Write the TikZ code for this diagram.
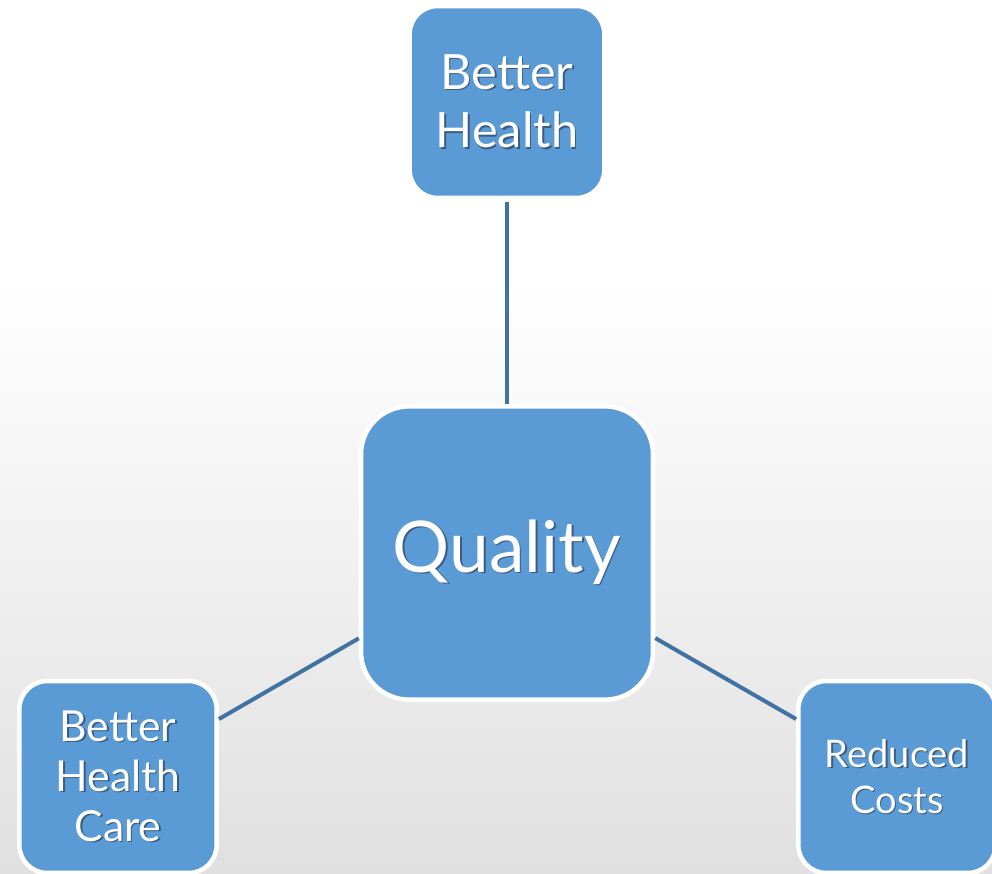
\documentclass[tikz,border=0pt]{standalone}
\usepackage{fontspec}
\setmainfont{Lato}
\definecolor{boxblue}{RGB}{91,155,213}
\definecolor{linkblue}{RGB}{66,114,162}
\definecolor{txtshade}{RGB}{58,92,130}
\definecolor{bgbottom}{RGB}{224,224,224}
\newcommand\shtxt[1]{\makebox[0pt][l]{\kern1.1pt\raisebox{-1.1pt}{\textcolor{txtshade}{#1}}}#1}
\tikzset{
  goal/.style={draw=white, line width=3.4pt, fill=boxblue, text=white,
    rounded corners=21pt, align=center, minimum width=146pt, minimum height=144pt},
  hub/.style={goal, rounded corners=36pt, minimum width=219pt, minimum height=220pt,
    font=\fontsize{53.5}{60}\selectfont},
  link/.style={draw=linkblue, line width=3pt},
}
\begin{document}
\begin{tikzpicture}[x=0.75pt,y=-0.75pt]
  \useasboundingbox (0,0) rectangle (992,874);
  \fill[white] (0,0) rectangle (992,280);
  \shade[top color=white, bottom color=bgbottom] (0,280) rectangle (992,874);

  \node[hub] (quality) at (507,553) {\shtxt{Quality}};
  \node[goal, font=\fontsize{36.5}{44}\selectfont] (health) at (507,102) {\shtxt{Better}\\\shtxt{Health}};
  \node[goal, minimum width=148pt, font=\fontsize{32}{37.5}\selectfont] (care) at (118,777) {\shtxt{Better}\\\shtxt{Health}\\\shtxt{Care}};
  \node[goal, minimum width=148pt, font=\fontsize{28.5}{34.5}\selectfont] (costs) at (897,777) {\shtxt{Reduced}\\\shtxt{Costs}};

  \draw[link, shorten <=1.5pt] (health) -- (quality);
  \draw[link] (quality) -- (care);
  \draw[link] (quality) -- (costs);
\end{tikzpicture}
\end{document}
